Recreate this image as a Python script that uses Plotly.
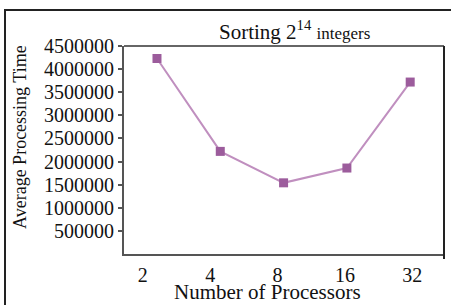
import plotly.graph_objects as go

processors = ["2", "4", "8", "16", "32"]
avg_time = [4230000, 2220000, 1540000, 1860000, 3720000]
y_ticks = [500000, 1000000, 1500000, 2000000, 2500000, 3000000, 3500000, 4000000, 4500000]

serif = "Liberation Serif, Times New Roman, serif"

fig = go.Figure()
fig.add_trace(go.Scatter(
    x=processors, y=avg_time, mode="lines+markers",
    line=dict(color="#c08fbf", width=2),
    marker=dict(symbol="square", size=9, color="#9c5c9c"),
    showlegend=False, xaxis="x", yaxis="y",
))
# invisible helper trace to carry the category labels on the label axis
fig.add_trace(go.Scatter(
    x=processors, y=[None] * len(processors), mode="markers",
    showlegend=False, xaxis="x2", yaxis="y", hoverinfo="skip",
))

L, R, T, B = 124, 7, 46, 51
W, H = 451, 305
pw, ph = W - L - R, H - T - B

fig.update_layout(
    width=W, height=H,
    margin=dict(l=L, r=R, t=T, b=B, autoexpand=False),
    paper_bgcolor="white", plot_bgcolor="white",
    font=dict(family=serif, color="#111111"),
    xaxis=dict(
        type="category", range=[-0.521, 4.534], automargin=False,
        showticklabels=False, ticks="",
        showline=True, linecolor="#555555", linewidth=2,
        showgrid=False, zeroline=False,
    ),
    xaxis2=dict(
        type="category", range=[-0.28, 4.47], overlaying="x", side="bottom",
        automargin=False,
        showticklabels=True, ticks="", showline=False, showgrid=False,
        ticklabelstandoff=7,
        tickfont=dict(family=serif, size=20, color="#111111"),
    ),
    yaxis=dict(
        range=[0, 4500000], tickvals=y_ticks, ticktext=[str(v) for v in y_ticks],
        automargin=False,
        ticks="outside", ticklen=4, tickcolor="#555555", tickwidth=2,
        showline=True, linecolor="#555555", linewidth=2,
        showgrid=False, zeroline=False,
        tickfont=dict(family=serif, size=20, color="#111111"),
    ),
    annotations=[
        dict(text="Sorting 2<sup>14</sup> <span style='font-size:17px'>integers</span>",
             xref="paper", yref="paper", x=(294 - L) / pw, y=1 + (T - 30) / ph,
             xanchor="center", yanchor="middle", showarrow=False,
             font=dict(family=serif, size=21, color="#111111")),
        dict(text="Number of Processors",
             xref="paper", yref="paper", x=(267 - L) / pw, y=-(292 - (H - B)) / ph,
             xanchor="center", yanchor="middle", showarrow=False,
             font=dict(family=serif, size=21, color="#111111")),
        dict(text="Average Processing Time", textangle=-90,
             xref="paper", yref="paper", x=(20 - L) / pw, y=1 - (137 - T) / ph,
             xanchor="center", yanchor="middle", showarrow=False,
             font=dict(family=serif, size=18, color="#111111")),
    ],
)

# plot frame: top and right borders (right extends slightly below the axis)
fig.add_shape(type="line", xref="paper", yref="paper", x0=0, x1=1, y0=1, y1=1,
              line=dict(color="#666666", width=2))
fig.add_shape(type="line", xref="paper", yref="paper", x0=1, x1=1, y0=-5 / ph, y1=1,
              line=dict(color="#222222", width=2))
# outer picture border
fig.add_shape(type="rect", xref="paper", yref="paper",
              x0=(5 - L) / pw, x1=(W + 5 - L) / pw,
              y0=-(B + 5) / ph, y1=1 + (T - 10) / ph,
              line=dict(color="#222222", width=2))

fig.write_html("out.html", config={"displayModeBar": False},
               post_script="document.body.style.margin='0';document.body.style.overflow='hidden';")
